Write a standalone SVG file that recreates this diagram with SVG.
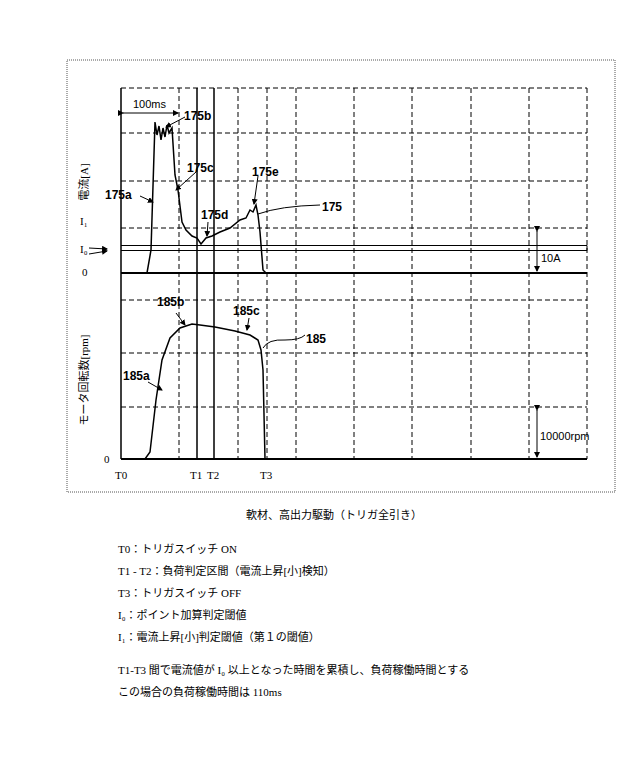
<svg xmlns="http://www.w3.org/2000/svg" width="640" height="769" viewBox="0 0 640 769">
<style>
.g{stroke:#000;stroke-width:1;stroke-dasharray:5,3;fill:none}
.s{stroke:#000;fill:none}
.c{stroke:#000;stroke-width:1.5;fill:none}
.l{font-family:"Liberation Sans",Arial,sans-serif;font-size:12px;font-weight:bold}
.n{font-family:"Liberation Sans",Arial,sans-serif;font-size:11px}
.t{font-family:"Liberation Serif","Noto Sans CJK JP",serif;font-size:11px}
</style>
<defs><marker id="a" markerWidth="6" markerHeight="6" refX="5" refY="3" orient="auto"><path d="M0,0L6,3L0,6z"/></marker></defs>
<rect width="640" height="769" fill="#fff"/>
<rect x="67" y="60" width="548" height="432" fill="none" stroke="#555" stroke-dasharray="1,1"/>
<g id="grid">
<path class="g" d="M121,88H587M121,133H587M121,181H587M121,228H587M121,300H587M121,353H587M121,407H587"/>
<path class="g" d="M179,88V459M238,88V459M296,88V459M354,88V459M412,88V459M471,88V459M529,88V459M587,88V459"/>
<path class="g" stroke-dasharray="2,1" d="M267,88V459"/>
<path class="s" stroke-width="1.5" d="M121,88V459M197,88V459M214,88V459"/>
<path class="s" stroke-width="2" d="M121,273H587M121,459H587"/>
<path class="s" stroke="#444" d="M121,245.5H587M121,250.5H587M587,245.5V250.5"/>
</g>
<g id="curves">
<path class="c" d="M121,273H147L151,250L155,122L157,135L159,126L161,140L163,128L165,137L167,125L169,133L172,128L175,175L178,190L182,222L186,230L192,236L197,238L201,244L206,238L212,236L220,232L230,228L240,220L246,218L250,210L253,212L256,205L258,215L260,232L263,270L266,273H587"/>
<path class="c" d="M121,459H145L150,452L156,400L162,360L170,338L180,328L192,324L200,325L215,327L235,331L250,335L258,340L261,350L263,370L265,459"/>
</g>
<g id="connectors" stroke="#000" fill="none">
<path d="M123,113H178" marker-start="url(#a)" marker-end="url(#a)"/>
<path d="M185,117L166,127" marker-end="url(#a)"/>
<path d="M196,172L176,190" marker-end="url(#a)"/>
<path d="M208,222L207,236" marker-end="url(#a)"/>
<path d="M258,176L254,204" marker-end="url(#a)"/>
<path d="M258,214Q280,206 320,205"/>
<path d="M140,196L153,202" marker-end="url(#a)"/>
<path d="M89,248L107,249" marker-end="url(#a)"/>
<path d="M89,254L107,251" marker-end="url(#a)"/>
<path d="M537,231V271" marker-start="url(#a)" marker-end="url(#a)"/>
<path d="M537,410V457" marker-start="url(#a)" marker-end="url(#a)"/>
<path d="M148,382L162,390" marker-end="url(#a)"/>
<path d="M176,313L185,325" marker-end="url(#a)"/>
<path d="M249,318L247,330" marker-end="url(#a)"/>
<path d="M263,348Q268,339 285,340Q300,340 305,335"/>
</g>
<g id="labels">
<text class="n" x="133" y="108">100ms</text>
<text class="l" x="184" y="120">175b</text>
<text class="l" x="187" y="172">175c</text>
<text class="l" x="201" y="219">175d</text>
<text class="l" x="252" y="176">175e</text>
<text class="l" x="105" y="199">175a</text>
<text class="l" x="322" y="211" font-size="15">175</text>
<text class="l" x="123" y="380">185a</text>
<text class="l" x="157" y="306">185b</text>
<text class="l" x="233" y="315">185c</text>
<text class="l" x="306" y="343" font-size="15">185</text>
<text class="n" x="541" y="262">10A</text>
<text class="n" x="540" y="440">10000rpm</text>
<text class="t" x="80" y="225">I₁</text>
<text class="t" x="80" y="253">I₀</text>
<text class="t" x="82" y="276">0</text>
<text class="t" x="104" y="463">0</text>
<text class="t" x="115" y="479">T0</text>
<text class="t" x="190" y="479">T1</text>
<text class="t" x="207" y="479">T2</text>
<text class="t" x="260" y="479">T3</text>
<text class="t" transform="translate(88,182) rotate(-90)" text-anchor="middle">電流[A]</text>
<text class="t" transform="translate(88,380) rotate(-90)" text-anchor="middle">モータ回転数[rpm]</text>
<text class="t" x="246" y="519">軟材、高出力駆動（トリガ全引き）</text>
<text class="t" x="118" y="553">T0：トリガスイッチ ON</text>
<text class="t" x="118" y="575">T1 - T2：負荷判定区間（電流上昇[小]検知）</text>
<text class="t" x="118" y="597">T3：トリガスイッチ OFF</text>
<text class="t" x="118" y="619">I₀：ポイント加算判定閾値</text>
<text class="t" x="118" y="641">I₁：電流上昇[小]判定閾値（第１の閾値）</text>
<text class="t" x="118" y="674">T1-T3 間で電流値が I₀ 以上となった時間を累積し、負荷稼働時間とする</text>
<text class="t" x="118" y="696">この場合の負荷稼働時間は 110ms</text>
</g>
</svg>
